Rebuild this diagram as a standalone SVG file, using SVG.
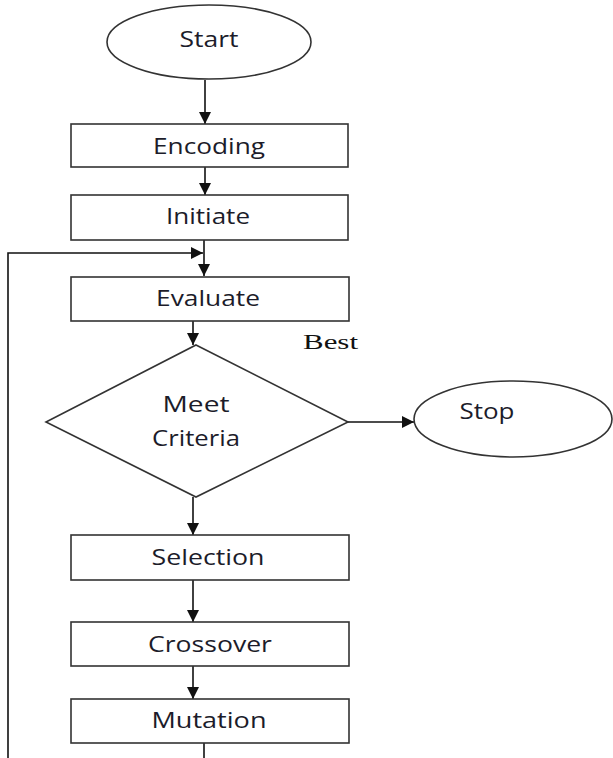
<svg xmlns="http://www.w3.org/2000/svg" width="613" height="758" viewBox="0 0 613 758">
<style>
.s{fill:#fff;stroke:#333;stroke-width:1.6}
.l{fill:none;stroke:#111;stroke-width:1.6}
.t{font-family:"Open Sans","Liberation Sans",sans-serif;font-size:21px;fill:#1c1c2a;text-anchor:middle}
.b{font-family:"Liberation Serif",serif;font-size:22px;fill:#111}
</style>
<defs>
<marker id="a" viewBox="0 0 10 10" refX="10" refY="5" markerWidth="12" markerHeight="12" markerUnits="userSpaceOnUse" orient="auto">
<path d="M0,0 L10,5 L0,10 z" fill="#111"/>
</marker>
</defs>
<g id="connectors">
<line class="l" x1="205" y1="80" x2="205" y2="124" marker-end="url(#a)"/>
<line class="l" x1="205" y1="167" x2="205" y2="195" marker-end="url(#a)"/>
<line class="l" x1="204" y1="240" x2="204" y2="276" marker-end="url(#a)"/>
<polyline class="l" points="8,758 8,253 203,253" marker-end="url(#a)"/>
<line class="l" x1="193" y1="321" x2="193" y2="345" marker-end="url(#a)"/>
<line class="l" x1="348" y1="422" x2="414" y2="422" marker-end="url(#a)"/>
<line class="l" x1="193" y1="497" x2="193" y2="535" marker-end="url(#a)"/>
<line class="l" x1="193" y1="580" x2="193" y2="622" marker-end="url(#a)"/>
<line class="l" x1="193" y1="666" x2="193" y2="699" marker-end="url(#a)"/>
<line class="l" x1="204" y1="743" x2="204" y2="758"/>
</g>
<g id="start"><ellipse class="s" cx="209" cy="42" rx="102" ry="37"/><text class="t" x="209" y="47" textLength="59" lengthAdjust="spacingAndGlyphs">Start</text></g>
<g id="encoding"><rect class="s" x="71" y="124" width="277" height="43"/><text class="t" x="209" y="154" textLength="112" lengthAdjust="spacingAndGlyphs">Encoding</text></g>
<g id="initiate"><rect class="s" x="71" y="195" width="277" height="45"/><text class="t" x="208" y="224" textLength="84" lengthAdjust="spacingAndGlyphs">Initiate</text></g>
<g id="evaluate"><rect class="s" x="71" y="277" width="278" height="44"/><text class="t" x="208" y="306" textLength="104" lengthAdjust="spacingAndGlyphs">Evaluate</text></g>
<g id="best"><text class="b" x="303" y="349" textLength="55" lengthAdjust="spacingAndGlyphs">Best</text></g>
<g id="meet"><polygon class="s" points="196,345 348,422 196,497 46,422"/><text class="t" x="196" y="412" textLength="67" lengthAdjust="spacingAndGlyphs">Meet</text><text class="t" x="196" y="446" textLength="88" lengthAdjust="spacingAndGlyphs">Criteria</text></g>
<g id="stop"><ellipse class="s" cx="513" cy="419" rx="99" ry="38"/><text class="t" x="487" y="419" textLength="55" lengthAdjust="spacingAndGlyphs">Stop</text></g>
<g id="selection"><rect class="s" x="71" y="535" width="278" height="45"/><text class="t" x="208" y="565" textLength="113" lengthAdjust="spacingAndGlyphs">Selection</text></g>
<g id="crossover"><rect class="s" x="71" y="622" width="278" height="44"/><text class="t" x="210" y="652" textLength="124" lengthAdjust="spacingAndGlyphs">Crossover</text></g>
<g id="mutation"><rect class="s" x="71" y="699" width="278" height="44"/><text class="t" x="209" y="728" textLength="115" lengthAdjust="spacingAndGlyphs">Mutation</text></g>
</svg>
